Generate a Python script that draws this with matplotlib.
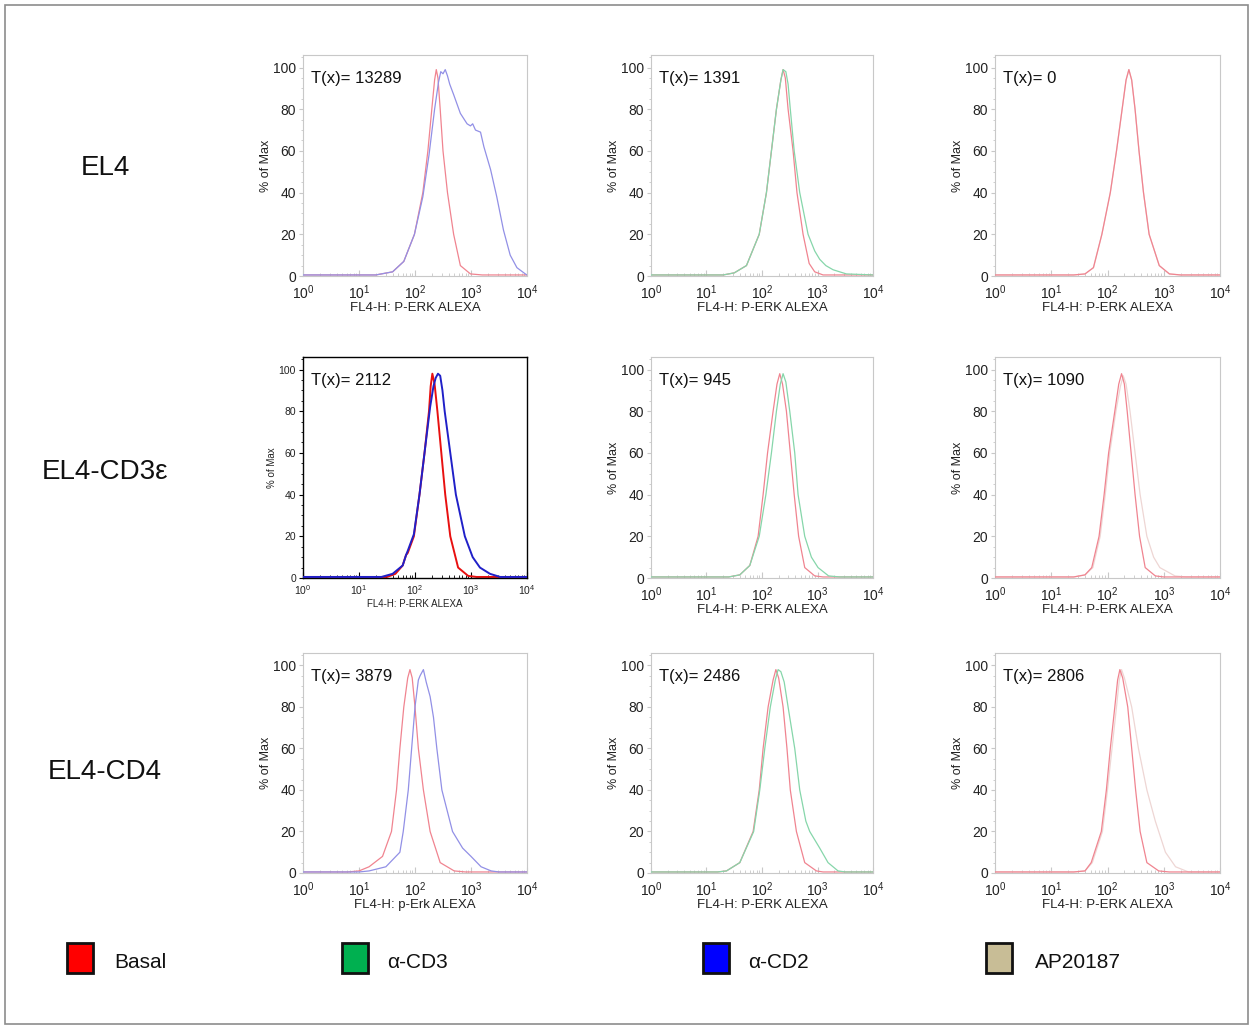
import numpy as np
import matplotlib
matplotlib.use("Agg")
import matplotlib.pyplot as plt
from matplotlib.patches import Rectangle
from matplotlib.ticker import FixedLocator, LogLocator, LogFormatterMathtext, NullFormatter, AutoMinorLocator

plt.rcParams['font.family'] = ['Liberation Sans', 'DejaVu Sans']
plt.rcParams['mathtext.default'] = 'regular'

# ---------------- data (log10 intensity, % of max) ----------------
row_labels = ["EL4", "EL4-CD3\u03b5", "EL4-CD4"]
t_values = [[13289, 1391, 0], [2112, 945, 1090], [3879, 2486, 2806]]
x_labels = [["FL4-H: P-ERK ALEXA"] * 3,
            ["FL4-H: P-ERK ALEXA"] * 3,
            ["FL4-H: p-Erk ALEXA", "FL4-H: P-ERK ALEXA", "FL4-H: P-ERK ALEXA"]]
legend_labels = ["Basal", "\u03b1-CD3", "\u03b1-CD2", "AP20187"]
legend_colors = ["#ff0000", "#00b050", "#0000ff", "#c8bd96"]

# Row 1: EL4
el4_basal_cd2_x = [0, 1.3, 1.6, 1.8, 1.99, 2.14, 2.23, 2.30, 2.35, 2.38, 2.41, 2.45, 2.50, 2.58, 2.69, 2.81, 2.99, 3.2, 4.0]
el4_basal_cd2_y = [0.5, 0.5, 2, 7, 20, 40, 60, 80, 94, 99, 95, 80, 60, 40, 20, 5, 1, 0.5, 0.5]
el4_cd2_x = [0, 1.3, 1.6, 1.8, 1.99, 2.14, 2.25, 2.35, 2.42, 2.46, 2.50, 2.54, 2.58, 2.62, 2.69, 2.81, 2.93, 2.99, 3.03, 3.08, 3.17, 3.23, 3.35, 3.46, 3.58, 3.70, 3.82, 3.97, 4.0]
el4_cd2_y = [0.5, 0.5, 2, 7, 20, 38, 58, 80, 93, 98, 97, 99, 96, 92, 87, 78, 73, 72, 73, 70, 69, 62, 51, 38, 22, 10, 4, 1, 0.5]

el4_basal_cd3_x = [0, 1.3, 1.5, 1.72, 1.95, 2.08, 2.17, 2.26, 2.34, 2.38, 2.42, 2.47, 2.56, 2.63, 2.74, 2.85, 2.95, 3.1, 4.0]
el4_basal_cd3_y = [0.5, 0.5, 1.5, 5, 20, 40, 60, 80, 94, 99, 95, 80, 60, 40, 20, 6, 2, 0.5, 0.5]
el4_cd3_x = [0, 1.3, 1.5, 1.72, 1.95, 2.08, 2.17, 2.26, 2.34, 2.38, 2.43, 2.47, 2.51, 2.58, 2.68, 2.83, 2.95, 3.04, 3.15, 3.28, 3.52, 4.0]
el4_cd3_y = [0.5, 0.5, 1.5, 5, 20, 40, 60, 80, 94, 99, 98, 92, 80, 60, 40, 20, 12, 8, 5, 3, 1, 0.5]

el4_basal_ap_x = [0, 1.4, 1.6, 1.75, 1.90, 2.05, 2.16, 2.26, 2.33, 2.38, 2.43, 2.49, 2.56, 2.64, 2.74, 2.92, 3.1, 3.3, 4.0]
el4_basal_ap_y = [0.5, 0.5, 1, 4, 20, 40, 60, 80, 94, 99, 94, 80, 60, 40, 20, 5, 1, 0.5, 0.5]
el4_ap_x = [0, 1.4, 1.6, 1.75, 1.90, 2.05, 2.16, 2.26, 2.33, 2.38, 2.43, 2.49, 2.56, 2.64, 2.74, 2.92, 3.1, 3.3, 4.0]
el4_ap_y = [0.5, 0.5, 1, 4, 20, 40, 60, 80, 94, 99, 94, 80, 60, 40, 20, 5, 1, 0.5, 0.5]

# Row 2: EL4-CD3e
cd3e_basal_cd2_x = [0, 1.5, 1.65, 1.78, 1.84, 1.87, 1.98, 2.08, 2.17, 2.25, 2.28, 2.31, 2.35, 2.40, 2.47, 2.54, 2.63, 2.77, 2.95, 3.1, 4.0]
cd3e_basal_cd2_y = [0.5, 0.5, 2, 6, 11, 12, 20, 40, 60, 80, 92, 98, 93, 80, 60, 40, 20, 5, 1, 0.5, 0.5]
cd3e_cd2_x = [0, 1.4, 1.6, 1.78, 1.84, 1.87, 1.98, 2.08, 2.17, 2.27, 2.33, 2.37, 2.41, 2.45, 2.49, 2.53, 2.63, 2.73, 2.89, 3.03, 3.16, 3.34, 3.52, 4.0]
cd3e_cd2_y = [0.5, 0.5, 2, 6, 11, 13, 21, 40, 60, 82, 92, 96, 98, 97, 90, 80, 60, 40, 20, 10, 5, 2, 0.5, 0.5]

cd3e_basal_cd3_x = [0, 1.4, 1.6, 1.78, 1.93, 2.02, 2.10, 2.20, 2.27, 2.32, 2.37, 2.44, 2.51, 2.58, 2.66, 2.77, 2.95, 3.1, 4.0]
cd3e_basal_cd3_y = [0.5, 0.5, 1.5, 6, 20, 40, 60, 80, 93, 98, 93, 80, 60, 40, 20, 5, 1, 0.5, 0.5]
cd3e_cd3_x = [0, 1.4, 1.6, 1.78, 1.95, 2.07, 2.17, 2.26, 2.33, 2.38, 2.43, 2.50, 2.59, 2.65, 2.77, 2.89, 3.01, 3.2, 3.4, 4.0]
cd3e_cd3_y = [0.5, 0.5, 1.5, 6, 20, 40, 60, 80, 93, 98, 94, 80, 60, 40, 20, 10, 5, 1, 0.5, 0.5]

cd3e_basal_ap_x = [0, 1.4, 1.6, 1.72, 1.85, 1.94, 2.02, 2.13, 2.20, 2.25, 2.30, 2.35, 2.42, 2.49, 2.57, 2.67, 2.85, 3.0, 4.0]
cd3e_basal_ap_y = [0.5, 0.5, 1.5, 5, 20, 40, 60, 80, 93, 98, 93, 80, 60, 40, 20, 5, 1, 0.5, 0.5]
cd3e_ap_x = [0, 1.4, 1.6, 1.74, 1.87, 1.96, 2.04, 2.15, 2.23, 2.28, 2.33, 2.40, 2.49, 2.58, 2.70, 2.82, 2.93, 3.2, 3.4, 4.0]
cd3e_ap_y = [0.5, 0.5, 1.5, 5, 20, 40, 60, 80, 92, 97, 93, 80, 60, 40, 20, 10, 5, 1, 0.5, 0.5]

# Row 3: EL4-CD4
cd4_basal_cd2_x = [0, 0.8, 1.0, 1.18, 1.42, 1.58, 1.67, 1.73, 1.80, 1.87, 1.91, 1.95, 2.0, 2.06, 2.15, 2.27, 2.45, 2.70, 2.9, 4.0]
cd4_basal_cd2_y = [0.5, 0.5, 1, 3, 8, 20, 40, 60, 80, 94, 98, 94, 80, 60, 40, 20, 5, 1, 0.5, 0.5]
cd4_cd2_x = [0, 1.0, 1.18, 1.48, 1.73, 1.79, 1.88, 1.94, 2.0, 2.06, 2.09, 2.15, 2.20, 2.27, 2.33, 2.39, 2.48, 2.67, 2.85, 3.0, 3.18, 3.36, 3.5, 4.0]
cd4_cd2_y = [0.5, 0.5, 1, 3, 10, 20, 40, 60, 80, 93, 95, 98, 92, 85, 75, 60, 40, 20, 12, 8, 3, 1, 0.5, 0.5]

cd4_basal_cd3_x = [0, 1.2, 1.36, 1.60, 1.84, 1.95, 2.02, 2.11, 2.20, 2.25, 2.30, 2.38, 2.45, 2.51, 2.62, 2.77, 2.98, 3.1, 4.0]
cd4_basal_cd3_y = [0.5, 0.5, 1, 5, 20, 40, 60, 80, 93, 98, 94, 80, 60, 40, 20, 5, 1, 0.5, 0.5]
cd4_cd3_x = [0, 1.2, 1.36, 1.60, 1.85, 1.96, 2.05, 2.15, 2.24, 2.29, 2.34, 2.40, 2.47, 2.59, 2.68, 2.79, 2.86, 3.04, 3.19, 3.37, 3.5, 4.0]
cd4_cd3_y = [0.5, 0.5, 1, 5, 20, 40, 60, 80, 93, 98, 97, 92, 80, 60, 40, 25, 20, 12, 5, 1, 0.5, 0.5]

cd4_basal_ap_x = [0, 1.4, 1.6, 1.71, 1.89, 1.98, 2.05, 2.13, 2.18, 2.22, 2.27, 2.36, 2.43, 2.50, 2.58, 2.70, 2.91, 3.1, 4.0]
cd4_basal_ap_y = [0.5, 0.5, 1, 5, 20, 40, 60, 80, 93, 98, 94, 80, 60, 40, 20, 5, 1, 0.5, 0.5]
cd4_ap_x = [0, 1.4, 1.6, 1.73, 1.91, 2.00, 2.08, 2.16, 2.21, 2.25, 2.30, 2.43, 2.55, 2.70, 2.85, 3.03, 3.21, 3.44, 4.0]
cd4_ap_y = [0.5, 0.5, 1, 5, 20, 40, 60, 80, 93, 98, 94, 80, 60, 40, 25, 10, 3, 0.5, 0.5]

panels = [
    [(el4_basal_cd2_x, el4_basal_cd2_y, el4_cd2_x, el4_cd2_y, 2),
     (el4_basal_cd3_x, el4_basal_cd3_y, el4_cd3_x, el4_cd3_y, 1),
     (el4_basal_ap_x, el4_basal_ap_y, el4_ap_x, el4_ap_y, 3)],
    [(cd3e_basal_cd2_x, cd3e_basal_cd2_y, cd3e_cd2_x, cd3e_cd2_y, 2),
     (cd3e_basal_cd3_x, cd3e_basal_cd3_y, cd3e_cd3_x, cd3e_cd3_y, 1),
     (cd3e_basal_ap_x, cd3e_basal_ap_y, cd3e_ap_x, cd3e_ap_y, 3)],
    [(cd4_basal_cd2_x, cd4_basal_cd2_y, cd4_cd2_x, cd4_cd2_y, 2),
     (cd4_basal_cd3_x, cd4_basal_cd3_y, cd4_cd3_x, cd4_cd3_y, 1),
     (cd4_basal_ap_x, cd4_basal_ap_y, cd4_ap_x, cd4_ap_y, 3)],
]

# thin, anti-aliased looking line colours (pale) for the scanned panels
pale_colors = ["#f08490", "#86d6aa", "#9290e6", "#eed6d4"]
bold_colors = ["#e81010", "#2020c8", "#2020c8", "#2020c8"]

# ---------------- layout ----------------
W, H = 1253, 1029
fig = plt.figure(figsize=(W / 100, H / 100), dpi=100)

col_px = [(303, 527), (651, 873), (995, 1220)]
row_px = [(55, 276), (357, 578), (653, 873)]

for r in range(3):
    for c in range(3):
        l, rr = col_px[c]
        t, b = row_px[r]
        ax = fig.add_axes([l / W, 1 - b / H, (rr - l) / W, (b - t) / H])
        bx, by, sx, sy, si = panels[r][c]
        bold = (r == 1 and c == 0)
        if bold:
            lw = 1.4
            cb, cs = bold_colors[0], bold_colors[si]
            spine_col = "black"
            tick_fs, lab_fs, ylab_fs = 7.5, 7, 7
            xpad, lpad = 4, 1
        else:
            lw = 0.9
            cb, cs = pale_colors[0], pale_colors[si]
            spine_col = "#c8c8c8"
            tick_fs, lab_fs, ylab_fs = 10, 9.5, 9
            xpad, lpad = 5, 0
        if si == 3:
            ax.plot(10 ** np.array(sx), sy, color=cs, lw=lw, zorder=2)
            ax.plot(10 ** np.array(bx), by, color=cb, lw=lw, zorder=3)
        else:
            ax.plot(10 ** np.array(bx), by, color=cb, lw=lw, zorder=2)
            ax.plot(10 ** np.array(sx), sy, color=cs, lw=lw, zorder=3)
        ax.set_xscale("log")
        ax.set_xlim(1, 1e4)
        ax.set_ylim(0, 106)
        ax.xaxis.set_major_locator(LogLocator(base=10, numticks=10))
        ax.xaxis.set_major_formatter(LogFormatterMathtext())
        ax.xaxis.set_minor_locator(LogLocator(base=10, subs=np.arange(2, 10), numticks=20))
        ax.xaxis.set_minor_formatter(NullFormatter())
        ax.yaxis.set_major_locator(FixedLocator([0, 20, 40, 60, 80, 100]))
        ax.yaxis.set_minor_locator(AutoMinorLocator(4))
        for s in ax.spines.values():
            s.set_color(spine_col)
            s.set_linewidth(1.0 if bold else 0.8)
        ax.tick_params(axis="x", which="both", direction="in", colors=spine_col,
                       labelcolor="#222222", labelsize=tick_fs, pad=xpad)
        ax.tick_params(axis="x", which="major", length=4)
        ax.tick_params(axis="x", which="minor", length=2)
        ax.tick_params(axis="y", which="both", direction="out", colors=spine_col,
                       labelcolor="#222222", labelsize=tick_fs, pad=2)
        ax.tick_params(axis="y", which="major", length=3)
        ax.tick_params(axis="y", which="minor", length=1.5)
        ax.set_xlabel(x_labels[r][c], fontsize=lab_fs, color="#222222", labelpad=lpad)
        ax.set_ylabel("% of Max", fontsize=ylab_fs, color="#222222", labelpad=1)
        ax.text(0.035, 0.895, "T(x)= %d" % t_values[r][c], transform=ax.transAxes,
                fontsize=12, color="#111111", ha="left", va="center")

# row labels
row_label_y = [168, 472, 772]
for lab, yy in zip(row_labels, row_label_y):
    fig.text(105 / W, 1 - yy / H, lab, fontsize=20, ha="center", va="center", color="#111111")

# legend squares
leg_sq_x = [67, 342, 703, 986]
leg_txt_x = [114, 387, 748, 1035]
for lab, col, sx_, tx_ in zip(legend_labels, legend_colors, leg_sq_x, leg_txt_x):
    fig.add_artist(Rectangle((sx_ / W, 1 - 973 / H), 26 / W, 30 / H, transform=fig.transFigure,
                             facecolor=col, edgecolor="#111111", linewidth=2))
    fig.text(tx_ / W, 1 - 962 / H, lab, fontsize=15, ha="left", va="center", color="#111111")

# outer border
fig.add_artist(Rectangle((5 / W, 5 / H), 1 - 10 / W, 1 - 10 / H, transform=fig.transFigure,
                         facecolor="none", edgecolor="#8c8c8c", linewidth=1.2))

fig.savefig("out.png", dpi=100)
